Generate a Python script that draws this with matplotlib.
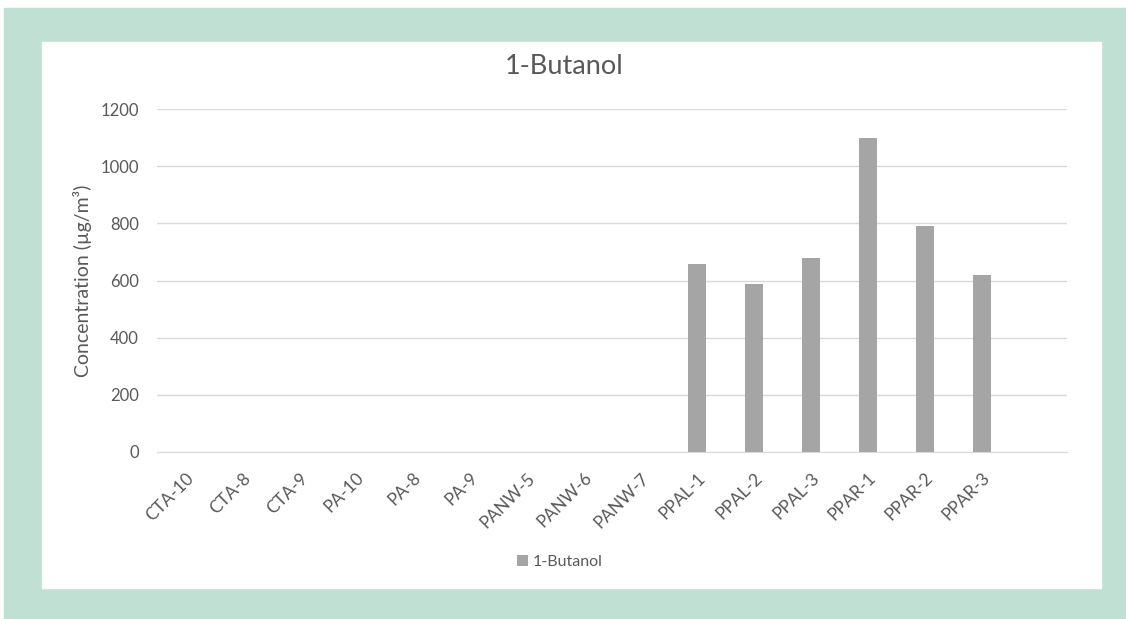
import matplotlib

matplotlib.use("Agg")
import matplotlib.pyplot as plt
from matplotlib.patches import Rectangle

plt.rcParams["font.family"] = ["Lato", "DejaVu Sans"]

# sample sites (last slot is an empty category, as in the source sheet)
sites = ["CTA-10", "CTA-8", "CTA-9", "PA-10", "PA-8", "PA-9",
         "PANW-5", "PANW-6", "PANW-7", "PPAL-1", "PPAL-2", "PPAL-3",
         "PPAR-1", "PPAR-2", "PPAR-3", ""]
butanol = [0, 0, 0, 0, 0, 0, 0, 0, 0, 657, 589, 678, 1098, 791, 619, 0]
yticks = [0, 200, 400, 600, 800, 1000, 1200]

W, H = 1126, 619
TEXT = "#595959"
GRID = "#d9d9d9"
BAR = "#a5a5a5"
FRAME = "#bfe0d2"

fig = plt.figure(figsize=(W / 100, H / 100), dpi=100)
# green frame and white chart panel
fig.patches.append(Rectangle((4 / W, 0), 1 - 4 / W, 1 - 8 / H,
                             transform=fig.transFigure, color=FRAME, zorder=-10))
fig.patches.append(Rectangle((42 / W, (H - 588) / H), (1101 - 42) / W, (588 - 42) / H,
                             transform=fig.transFigure, color="white", zorder=-9))

left, right = 157 / W, 1067 / W
bottom, top = (H - 451.7) / H, (H - 109.3) / H
ax = fig.add_axes([left, bottom, right - left, top - bottom])
ax.set_zorder(1)
ax.patch.set_alpha(0)

x = range(len(sites))
ax.bar(x, butanol, width=0.31, color=BAR, label="1-Butanol", zorder=3)

ax.set_xlim(-0.5, len(sites) - 0.5)
ax.set_ylim(0, 1200)
ax.set_yticks(yticks)
ax.set_yticklabels([str(v) for v in yticks], color=TEXT, fontsize=12)
ax.set_xticks(list(x))
ax.set_xticklabels(sites, rotation=45, ha="right", rotation_mode="anchor",
                   color=TEXT, fontsize=12.5)
ax.tick_params(axis="both", length=0)
ax.tick_params(axis="y", pad=13)
ax.tick_params(axis="x", pad=13)
ax.grid(axis="y", color=GRID, linewidth=1, zorder=0)
ax.set_axisbelow(True)
for s in ("top", "right", "left"):
    ax.spines[s].set_visible(False)
ax.spines["bottom"].set_color(GRID)

ax.set_ylabel("Concentration (µg/m³)", color=TEXT, fontsize=14, labelpad=6)
fig.text(564 / W, (H - 67) / H, "1-Butanol", ha="center", va="center",
         color=TEXT, fontsize=19.5)

leg = fig.legend(loc="center", bbox_to_anchor=(560 / W, (H - 562) / H),
                 frameon=False, fontsize=11.5, handlelength=0.7, handleheight=0.7,
                 handletextpad=0.3)
for t in leg.get_texts():
    t.set_color(TEXT)

fig.savefig("out.png", dpi=100)
